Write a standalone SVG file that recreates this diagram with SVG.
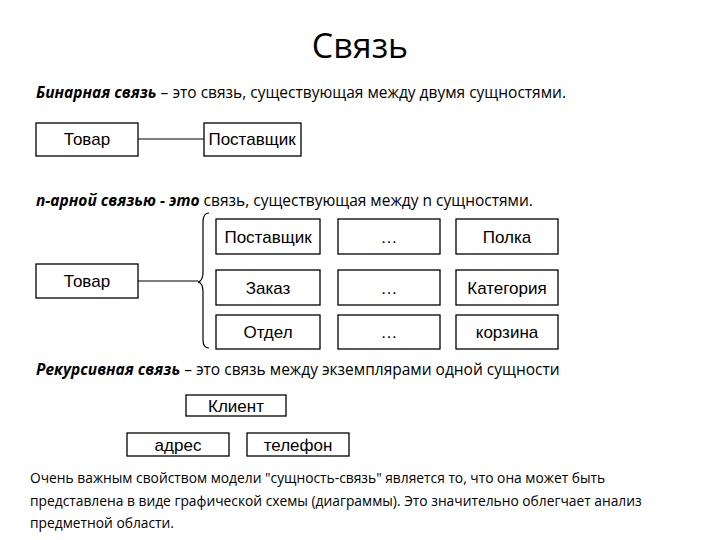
<svg xmlns="http://www.w3.org/2000/svg" width="720" height="540" viewBox="0 0 720 540">
<style>
.b{fill:#fff;stroke:#000;stroke-width:1.3}
.t{font-family:"Liberation Sans",Arial,sans-serif;font-size:17px;text-anchor:middle}
.p{font-family:"Open Sans","DejaVu Sans",sans-serif;font-size:15.5px}
.q{font-family:"Open Sans","DejaVu Sans",sans-serif;font-size:13.8px}
.c{fill:none;stroke:#000;stroke-width:1.2}
</style>
<rect width="720" height="540" fill="#fff"/>
<text x="360" y="58" font-family="Open Sans,DejaVu Sans,sans-serif" font-size="34" text-anchor="middle">Связь</text>
<text x="36" y="98" class="p"><tspan font-weight="bold" font-style="italic">Бинарная связь</tspan> – это связь, существующая между двумя сущностями.</text>
<text x="36" y="206" class="p"><tspan font-weight="bold" font-style="italic">n-арной связью  - это</tspan> связь, существующая между n сущностями.</text>
<text x="36" y="375" class="p"><tspan font-weight="bold" font-style="italic">Рекурсивная связь</tspan> – это связь между экземплярами одной сущности</text>
<text class="q"><tspan x="30" y="483">Очень важным свойством модели "сущность-связь" является то, что она может быть</tspan><tspan x="30" y="506">представлена в виде графической схемы (диаграммы). Это значительно облегчает анализ</tspan><tspan x="30" y="528">предметной области.</tspan></text>
<g id="connectors">
<line class="c" x1="138" y1="139" x2="204" y2="139"/>
<line class="c" x1="138" y1="281" x2="198" y2="281"/>
<path class="c" d="M209,213 Q203,213 203,222 L203,272 Q203,281 198,282 Q203,283 203,292 L203,340 Q203,348 209,348"/>
</g>
<g id="n1"><rect class="b" x="36" y="123" width="102" height="33"/><text class="t" x="87" y="145">Товар</text></g>
<g id="n2"><rect class="b" x="204" y="123" width="97" height="33"/><text class="t" x="252" y="145">Поставщик</text></g>
<g id="n3"><rect class="b" x="36" y="264" width="102" height="34"/><text class="t" x="87" y="287">Товар</text></g>
<g id="n4"><rect class="b" x="216" y="219" width="104" height="35"/><text class="t" x="268" y="243">Поставщик</text></g>
<g id="n5"><rect class="b" x="338" y="219" width="102" height="35"/><text class="t" x="389" y="243">…</text></g>
<g id="n6"><rect class="b" x="456" y="219" width="102" height="35"/><text class="t" x="507" y="243">Полка</text></g>
<g id="n7"><rect class="b" x="216" y="270" width="104" height="35"/><text class="t" x="268" y="294">Заказ</text></g>
<g id="n8"><rect class="b" x="338" y="270" width="102" height="35"/><text class="t" x="389" y="294">…</text></g>
<g id="n9"><rect class="b" x="456" y="270" width="102" height="35"/><text class="t" x="507" y="294">Категория</text></g>
<g id="n10"><rect class="b" x="216" y="315" width="104" height="34"/><text class="t" x="268" y="338">Отдел</text></g>
<g id="n11"><rect class="b" x="338" y="315" width="102" height="34"/><text class="t" x="389" y="338">…</text></g>
<g id="n12"><rect class="b" x="456" y="315" width="102" height="34"/><text class="t" x="507" y="338">корзина</text></g>
<g id="n13"><rect class="b" x="186" y="395" width="100" height="21"/><text class="t" x="236" y="412">Клиент</text></g>
<g id="n14"><rect class="b" x="127" y="433" width="102" height="23"/><text class="t" x="178" y="451">адрес</text></g>
<g id="n15"><rect class="b" x="247" y="433" width="102" height="23"/><text class="t" x="298" y="451">телефон</text></g>
</svg>
